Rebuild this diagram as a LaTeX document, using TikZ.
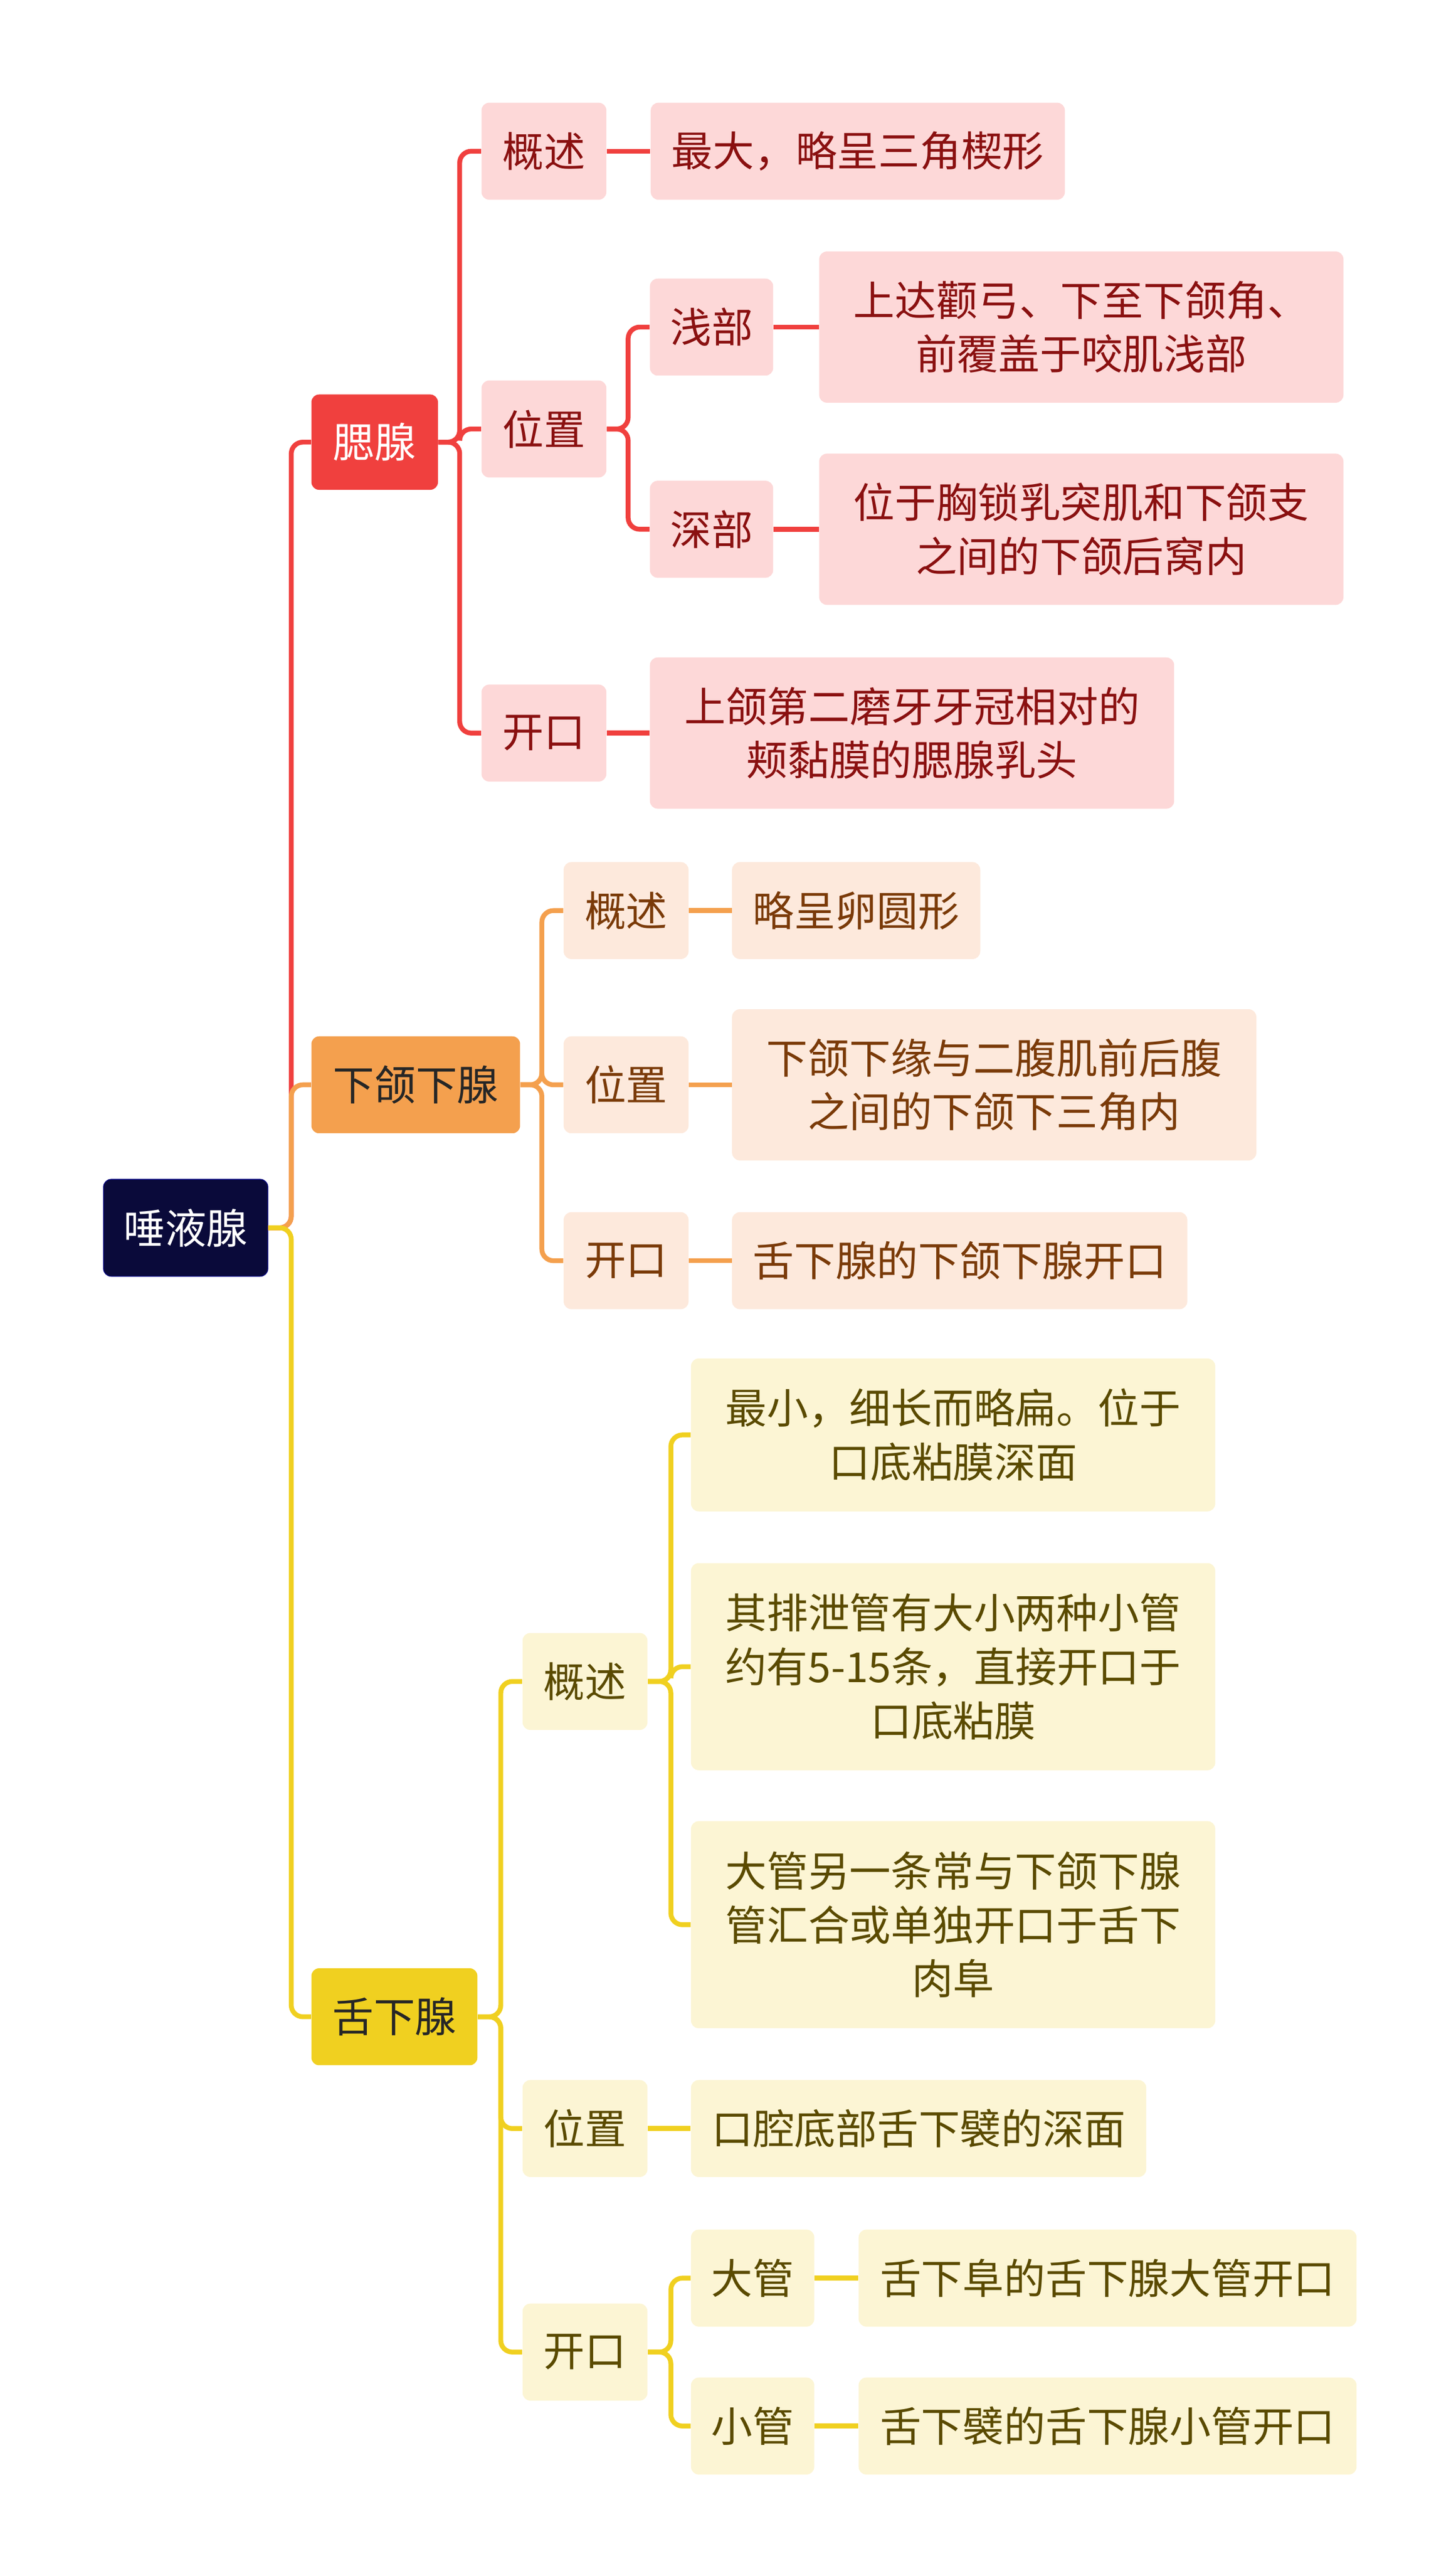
\documentclass[tikz,border=0pt]{standalone}
\usepackage{fontspec}
\setmainfont{Noto Sans CJK SC}
\usepackage{tikz}

\definecolor{rootc}{HTML}{0A0A3A}
\definecolor{redc}{HTML}{F0403E}
\definecolor{redl}{HTML}{FDD8D8}
\definecolor{orac}{HTML}{F4A04E}
\definecolor{oral}{HTML}{FDE9DC}
\definecolor{yelc}{HTML}{F0D020}
\definecolor{yell}{HTML}{FCF5D4}
\definecolor{redt}{HTML}{8A1010}
\definecolor{orat}{HTML}{7A3A08}
\definecolor{yelt}{HTML}{5A4A00}

\tikzset{
  box/.style={rounded corners=4pt, align=center, inner sep=0pt,
    font=\fontsize{21.5pt}{28pt}\selectfont, minimum height=1.77cm},
  rbox/.style={box, fill=redl, text=redt},
  obox/.style={box, fill=oral, text=orat},
  ybox/.style={box, fill=yell, text=yelt},
  rline/.style={draw=redc, line width=2.5pt, rounded corners=6pt},
  oline/.style={draw=orac, line width=2.5pt, rounded corners=6pt},
  yline/.style={draw=yelc, line width=2.5pt, rounded corners=6pt}
}

\begin{document}
\begin{tikzpicture}[x=0.03cm, y=-0.03cm]
	\useasboundingbox (0,0) rectangle (886,1563);
	\node[box, fill=rootc, text=white, draw=blue!50!black, minimum width=3cm] (root) at (113,747) {唾液腺};
	\node[box, fill=redc, text=white, minimum width=2.31cm, minimum height=1.74cm] (sai) at (228,269) {腮腺};
	\node[box, fill=orac, text=black!85, minimum width=3.81cm] (xhx) at (253,660) {下颌下腺};
	\node[box, fill=yelc, text=black!85, minimum width=3.03cm] (sx) at (240,1227) {舌下腺};
	% 腮腺
	\node[rbox, minimum width=2.28cm] (s1) at (331,92) {概述};
	\node[rbox, minimum width=2.28cm] (s2) at (331,261) {位置};
	\node[rbox, minimum width=2.28cm] (s3) at (331,446) {开口};
	\node[rbox, minimum width=7.56cm] (s1a) at (522,92) {最大，略呈三角楔形};
	\node[rbox, minimum width=2.25cm] (s2a) at (433,199) {浅部};
	\node[rbox, minimum width=2.25cm] (s2b) at (433,322) {深部};
	\node[rbox, minimum width=9.57cm, minimum height=2.76cm] (s2a1) at (658,199) {上达颧弓、下至下颌角、\\前覆盖于咬肌浅部};
	\node[rbox, minimum width=9.57cm, minimum height=2.76cm] (s2b1) at (658,322) {位于胸锁乳突肌和下颌支\\之间的下颌后窝内};
	\node[rbox, minimum width=9.57cm, minimum height=2.76cm] (s3a) at (555,446) {上颌第二磨牙牙冠相对的\\颊黏膜的腮腺乳头};
	% 下颌下腺
	\node[obox, minimum width=2.28cm] (x1) at (381,554) {概述};
	\node[obox, minimum width=2.28cm] (x2) at (381,660) {位置};
	\node[obox, minimum width=2.28cm] (x3) at (381,767) {开口};
	\node[obox, minimum width=4.53cm] (x1a) at (521,554) {略呈卵圆形};
	\node[obox, minimum width=9.57cm, minimum height=2.76cm] (x2a) at (605,660) {下颌下缘与二腹肌前后腹\\之间的下颌下三角内};
	\node[obox, minimum width=8.31cm] (x3a) at (584,767) {舌下腺的下颌下腺开口};
	% 舌下腺
	\node[ybox, minimum width=2.28cm] (y1) at (356,1023) {概述};
	\node[ybox, minimum width=2.28cm] (y2) at (356,1295) {位置};
	\node[ybox, minimum width=2.28cm] (y3) at (356,1431) {开口};
	\node[ybox, minimum width=9.57cm, minimum height=2.79cm] (y1a) at (580,873) {最小，细长而略扁。位于\\口底粘膜深面};
	\node[ybox, minimum width=9.57cm, minimum height=3.78cm] (y1b) at (580,1014) {其排泄管有大小两种小管\\约有5-15条，直接开口于\\口底粘膜};
	\node[ybox, minimum width=9.57cm, minimum height=3.78cm] (y1c) at (580,1171) {大管另一条常与下颌下腺\\管汇合或单独开口于舌下\\肉阜};
	\node[ybox, minimum width=8.31cm] (y2a) at (559,1295) {口腔底部舌下襞的深面};
	\node[ybox, minimum width=2.25cm] (y3a) at (458,1386) {大管};
	\node[ybox, minimum width=2.25cm] (y3b) at (458,1476) {小管};
	\node[ybox, minimum width=9.09cm] (y3a1) at (674,1386) {舌下阜的舌下腺大管开口};
	\node[ybox, minimum width=9.09cm] (y3b1) at (674,1476) {舌下襞的舌下腺小管开口};
	% connectors
	\draw[rline] (root.east) -- ++(14,0) |- (sai.west);
	\draw[oline] (root.east) -- ++(14,0) |- (xhx.west);
	\draw[yline] (root.east) -- ++(14,0) |- (sx.west);
	\foreach \c in {s1,s2,s3} \draw[rline] (sai.east) -- ++(13,0) |- (\c.west);
	\foreach \c in {s2a,s2b} \draw[rline] (s2.east) -- ++(13,0) |- (\c.west);
	\draw[rline] (s1) -- (s1a);
	\draw[rline] (s2a) -- (s2a1);
	\draw[rline] (s2b) -- (s2b1);
	\draw[rline] (s3) -- (s3a);
	\foreach \c in {x1,x2,x3} \draw[oline] (xhx.east) -- ++(13,0) |- (\c.west);
	\draw[oline] (x1) -- (x1a);
	\draw[oline] (x2) -- (x2a);
	\draw[oline] (x3) -- (x3a);
	\foreach \c in {y1,y2,y3} \draw[yline] (sx.east) -- ++(14,0) |- (\c.west);
	\foreach \c in {y1a,y1b,y1c} \draw[yline] (y1.east) -- ++(14,0) |- (\c.west);
	\foreach \c in {y3a,y3b} \draw[yline] (y3.east) -- ++(14,0) |- (\c.west);
	\draw[yline] (y2) -- (y2a);
	\draw[yline] (y3a) -- (y3a1);
	\draw[yline] (y3b) -- (y3b1);
\end{tikzpicture}
\end{document}
